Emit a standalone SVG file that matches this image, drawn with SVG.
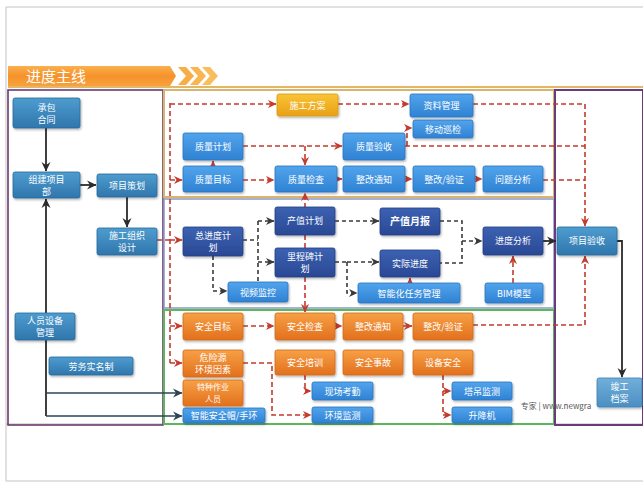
<svg xmlns="http://www.w3.org/2000/svg" width="643" height="484" viewBox="0 0 643 484">
<defs>
<linearGradient id="gSteel" x1="0" y1="0" x2="0" y2="1"><stop offset="0" stop-color="#4f9ccf"/><stop offset="1" stop-color="#2e76ad"/></linearGradient>
<linearGradient id="gBlue" x1="0" y1="0" x2="0" y2="1"><stop offset="0" stop-color="#52a4ec"/><stop offset="1" stop-color="#2f82d3"/></linearGradient>
<linearGradient id="gNavy" x1="0" y1="0" x2="0" y2="1"><stop offset="0" stop-color="#3c62b2"/><stop offset="1" stop-color="#2a4894"/></linearGradient>
<linearGradient id="gOrange" x1="0" y1="0" x2="0" y2="1"><stop offset="0" stop-color="#f7a046"/><stop offset="1" stop-color="#e2701c"/></linearGradient>
<linearGradient id="gGold" x1="0" y1="0" x2="0" y2="1"><stop offset="0" stop-color="#f9c436"/><stop offset="1" stop-color="#e9a016"/></linearGradient>
<linearGradient id="gPale" x1="0" y1="0" x2="0" y2="1"><stop offset="0" stop-color="#72afd9"/><stop offset="1" stop-color="#4a8fc3"/></linearGradient>
<linearGradient id="gBanner" x1="0" y1="0" x2="0" y2="1"><stop offset="0" stop-color="#fbb04e"/><stop offset="0.5" stop-color="#f5922a"/><stop offset="1" stop-color="#f7a23e"/></linearGradient>
<filter id="sh" x="-10%" y="-10%" width="130%" height="140%"><feDropShadow dx="1" dy="1.5" stdDeviation="0.8" flood-color="#000" flood-opacity="0.3"/></filter>
<marker id="aRed" markerUnits="userSpaceOnUse" markerWidth="9" markerHeight="9" refX="8" refY="4.5" orient="auto"><path d="M0,0.5 L8.5,4.5 L0,8.5 L2.5,4.5 z" fill="#c23b2c"/></marker>
<marker id="aGray" markerUnits="userSpaceOnUse" markerWidth="9" markerHeight="9" refX="8" refY="4.5" orient="auto"><path d="M0,0.5 L8.5,4.5 L0,8.5 L2.5,4.5 z" fill="#3a3a3a"/></marker>
<marker id="aDark" markerUnits="userSpaceOnUse" markerWidth="10" markerHeight="10" refX="9" refY="5" orient="auto"><path d="M0,0.5 L9.5,5 L0,9.5 L3,5 z" fill="#2b2b2b"/></marker>
<marker id="aTeal" markerUnits="userSpaceOnUse" markerWidth="10" markerHeight="10" refX="9" refY="5" orient="auto"><path d="M0,0.5 L9.5,5 L0,9.5 L3,5 z" fill="#2a4558"/></marker>
</defs>
<style>
text{font-family:"Noto Sans CJK SC","Noto Sans",sans-serif;font-size:9px;fill:#fff;text-anchor:middle}
.b rect{stroke-width:0.8;filter:url(#sh)}
.steel rect{fill:url(#gSteel);stroke:#2a6a9a}
.blue rect{fill:url(#gBlue);stroke:#2a74bf}
.navy rect{fill:url(#gNavy);stroke:#213d80}
.orange rect{fill:url(#gOrange);stroke:#d06a1a}
.gold rect{fill:url(#gGold);stroke:#d99a10}
.pale rect{fill:url(#gPale);stroke:#3f82b5}
.red{fill:none;stroke:#c23b2c;stroke-width:1.6;stroke-dasharray:5 3}
.redm{marker-end:url(#aRed)}
.gray{fill:none;stroke:#3a3a3a;stroke-width:1.6;stroke-dasharray:4 3}
.graym{marker-end:url(#aGray)}
.dark{fill:none;stroke:#2b2b2b;stroke-width:1.8}
.teal{fill:none;stroke:#2a4558;stroke-width:1.6}
.frame{fill:none}
.sm{font-size:8px}
</style>
<rect width="643" height="484" fill="#fff"/>
<g id="page">
<rect x="6" y="7" width="640" height="474" fill="none" stroke="#c4c4c4" stroke-width="1"/>
<line x1="6" y1="424" x2="643" y2="424" stroke="#b8b8b8" stroke-width="1"/>
</g>
<g id="banner">
<line x1="8" y1="87" x2="643" y2="87" stroke="#e4b766" stroke-width="2"/>
<polygon points="8,66 170,66 176,76 170,86 8,86" fill="url(#gBanner)"/>
<polygon points="178,67 186,67 194,76 186,85 178,85 186,76" fill="#f8ae44"/>
<polygon points="190,67 198,67 206,76 198,85 190,85 198,76" fill="#f9b650"/>
<polygon points="202,67 210,67 218,76 210,85 202,85 210,76" fill="#fabd5c"/>
<text x="56" y="81.5" style="font-size:15px;fill:#fff">进度主线</text>
</g>
<g id="frames">
<rect class="frame" x="8" y="90" width="155" height="335" stroke="#6b3a6e" stroke-width="1.6"/>
<rect class="frame" x="164" y="90" width="390" height="107" stroke="#d8b46c" stroke-width="2"/>
<rect class="frame" x="164" y="199" width="390" height="109" stroke="#8a96c8" stroke-width="1.5"/>
<rect class="frame" x="164" y="310" width="390" height="114" stroke="#5cb65c" stroke-width="2"/>
<rect class="frame" x="555" y="90" width="88" height="335" stroke="#6b3a7a" stroke-width="2"/>
</g>
<g id="watermark">
<text x="556" y="409" style="font-size:8px;fill:#555">专家 | www.newgra</text>
</g>
<g id="connectors">
<path class="dark" marker-end="url(#aDark)" d="M46,128 V171"/>
<path class="dark" marker-end="url(#aDark)" d="M80,185 H96"/>
<path class="dark" marker-end="url(#aDark)" d="M127,197 V227"/>
<path class="dark" marker-end="url(#aDark)" d="M46,416 V199"/>
<path class="teal" marker-end="url(#aTeal)" d="M46,393 H182"/>
<path class="teal" marker-end="url(#aTeal)" d="M46,416 H182"/>
<path class="dark" marker-end="url(#aDark)" d="M617,241 H622 V377"/>
<path class="dark" marker-end="url(#aDark)" d="M543,241 H556"/>
<path class="red" d="M157,240 H170"/>
<path class="red" d="M170,103 V363"/>
<path class="red redm" d="M170,104 H276"/>
<path class="red redm" d="M170,180 H182"/>
<path class="red redm" d="M170,240 H182"/>
<path class="red redm" d="M170,326 H182"/>
<path class="red redm" d="M170,363 H182"/>
<path class="red redm" d="M338,104 H409"/>
<path class="red redm" d="M473,104 H585 V226"/>
<path class="red redm" d="M243,146 H342"/>
<path class="red redm" d="M305,146 V165"/>
<path class="red" d="M405,146 H585"/>
<path class="red redm" d="M407,146 V128 H412"/>
<path fill="none" stroke="#c23b2c" stroke-width="1.6" marker-end="url(#aRed)" d="M213,166 V161"/>
<path class="red redm" d="M243,180 H274"/>
<path class="red redm" d="M337,179 H342"/>
<path class="red redm" d="M405,179 H412"/>
<path class="red redm" d="M475,179 H482"/>
<path class="red" d="M543,180 H585"/>
<path class="red redm" d="M305,248 V193"/>
<path class="red redm" d="M305,277 V312"/>
<path class="red redm" d="M410,283 V278"/>
<path class="red redm" d="M513,283 V256"/>
<path class="red redm" d="M243,326 H274"/>
<path class="red redm" d="M335,326 H342"/>
<path class="red redm" d="M403,326 H412"/>
<path class="red redm" d="M473,325 H585 V256"/>
<path class="red redm" d="M243,363 H272 V415 H311"/>
<path class="red redm" d="M305,375 V391 H311"/>
<path class="red redm" d="M443,375 V415 H451"/>
<path class="red redm" d="M443,391 H451"/>
<path class="gray" d="M243,240 H258"/>
<path class="gray" d="M258,221 V282"/>
<path class="gray graym" d="M258,221 H274"/>
<path class="gray graym" d="M258,262 H274"/>
<path class="gray graym" d="M213,256 V291 H227"/>
<path class="gray graym" d="M335,221 H379"/>
<path class="gray" d="M335,262 H347"/>
<path class="gray graym" d="M347,262 H379"/>
<path class="gray graym" d="M347,262 V293 H357"/>
<path class="gray" d="M440,221 H462 V263 H440"/>
<path class="gray graym" d="M462,241 H482"/>
</g>
<g id="n_cbht" class="b steel"><rect x="13" y="98" width="67" height="30" rx="2"/><text x="46.5" y="111">承包</text><text x="46.5" y="123">合同</text></g>
<g id="n_zjxmb" class="b steel"><rect x="13" y="172" width="67" height="26" rx="2"/><text x="46.5" y="183">组建项目</text><text x="46.5" y="195">部</text></g>
<g id="n_xmch" class="b steel"><rect x="97" y="174" width="60" height="23" rx="2"/><text x="127" y="189">项目策划</text></g>
<g id="n_sgzzsj" class="b steel"><rect x="97" y="228" width="60" height="27" rx="2"/><text x="127" y="239">施工组织</text><text x="127" y="251">设计</text></g>
<g id="n_rysbgl" class="b steel"><rect x="15" y="313" width="60" height="27" rx="2"/><text x="45" y="324">人员设备</text><text x="45" y="336">管理</text></g>
<g id="n_lwsmz" class="b steel"><rect x="49" y="357" width="84" height="18" rx="2"/><text x="91" y="369.5">劳务实名制</text></g>
<g id="n_sgfa" class="b gold"><rect x="277" y="94" width="61" height="22" rx="2"/><text x="307.5" y="108.5">施工方案</text></g>
<g id="n_zlgl" class="b blue"><rect x="410" y="94" width="63" height="23" rx="2"/><text x="441.5" y="109">资料管理</text></g>
<g id="n_ydxj" class="b blue"><rect x="413" y="120" width="60" height="18" rx="2"/><text x="443" y="132.5">移动巡检</text></g>
<g id="n_zljh" class="b blue"><rect x="183" y="133" width="60" height="27" rx="2"/><text x="213" y="150">质量计划</text></g>
<g id="n_zlys" class="b blue"><rect x="343" y="133" width="62" height="27" rx="2"/><text x="374" y="150">质量验收</text></g>
<g id="n_zlmb" class="b blue"><rect x="183" y="166" width="60" height="26" rx="2"/><text x="213" y="182.5">质量目标</text></g>
<g id="n_zljc" class="b blue"><rect x="275" y="166" width="62" height="26" rx="2"/><text x="306" y="182.5">质量检查</text></g>
<g id="n_zgtz1" class="b blue"><rect x="343" y="166" width="62" height="26" rx="2"/><text x="374" y="182.5">整改通知</text></g>
<g id="n_zgyz1" class="b blue"><rect x="413" y="166" width="62" height="26" rx="2"/><text x="444" y="182.5">整改/验证</text></g>
<g id="n_wtfx" class="b blue"><rect x="483" y="166" width="60" height="26" rx="2"/><text x="513" y="182.5">问题分析</text></g>
<g id="n_zjdjh" class="b navy"><rect x="183" y="227" width="60" height="29" rx="2"/><text x="213" y="239">总进度计</text><text x="213" y="251">划</text></g>
<g id="n_czjh" class="b navy"><rect x="275" y="207" width="60" height="28" rx="2"/><text x="305" y="224">产值计划</text></g>
<g id="n_lcbjh" class="b navy"><rect x="275" y="248" width="60" height="29" rx="2"/><text x="305" y="260">里程碑计</text><text x="305" y="272">划</text></g>
<g id="n_spjk" class="b blue"><rect x="228" y="282" width="60" height="20" rx="2"/><text x="258" y="295.5">视频监控</text></g>
<g id="n_czyb" class="b navy"><rect x="380" y="208" width="60" height="27" rx="2"/><text x="410" y="225" style="font-weight:bold;font-size:10px">产值月报</text></g>
<g id="n_sjjd" class="b navy"><rect x="380" y="250" width="60" height="27" rx="2"/><text x="410" y="267">实际进度</text></g>
<g id="n_znhrwgl" class="b blue"><rect x="358" y="283" width="102" height="20" rx="2"/><text x="409" y="296.5">智能化任务管理</text></g>
<g id="n_jdfx" class="b navy"><rect x="483" y="227" width="60" height="28" rx="2"/><text x="513" y="244">进度分析</text></g>
<g id="n_bim" class="b blue"><rect x="485" y="283" width="58" height="20" rx="2"/><text x="514" y="296.5">BIM模型</text></g>
<g id="n_aqmb" class="b orange"><rect x="183" y="313" width="60" height="27" rx="2"/><text x="213" y="330">安全目标</text></g>
<g id="n_aqjc" class="b orange"><rect x="275" y="313" width="60" height="27" rx="2"/><text x="305" y="330">安全检查</text></g>
<g id="n_zgtz2" class="b orange"><rect x="343" y="313" width="60" height="27" rx="2"/><text x="373" y="330">整改通知</text></g>
<g id="n_zgyz2" class="b orange"><rect x="413" y="313" width="60" height="27" rx="2"/><text x="443" y="330">整改/验证</text></g>
<g id="n_wxy" class="b orange"><rect x="183" y="350" width="60" height="27" rx="2"/><text x="213" y="361">危险源</text><text x="213" y="373">环境因素</text></g>
<g id="n_aqpx" class="b orange"><rect x="275" y="350" width="60" height="25" rx="2"/><text x="305" y="366">安全培训</text></g>
<g id="n_aqsg" class="b orange"><rect x="343" y="350" width="60" height="25" rx="2"/><text x="373" y="366">安全事故</text></g>
<g id="n_sbaq" class="b orange"><rect x="413" y="350" width="60" height="25" rx="2"/><text x="443" y="366">设备安全</text></g>
<g id="n_tzzy" class="b orange"><rect x="183" y="380" width="60" height="26" rx="2"/><text class="sm" x="213" y="390">特种作业</text><text class="sm" x="213" y="402">人员</text></g>
<g id="n_znaqm" class="b blue"><rect x="183" y="408" width="82" height="15" rx="2"/><text x="224" y="419">智能安全帽/手环</text></g>
<g id="n_xckq" class="b blue"><rect x="312" y="382" width="61" height="18" rx="2"/><text x="342.5" y="394.5">现场考勤</text></g>
<g id="n_hjjc" class="b blue"><rect x="312" y="407" width="61" height="16" rx="2"/><text x="342.5" y="418.5">环境监测</text></g>
<g id="n_tdjc" class="b blue"><rect x="452" y="382" width="60" height="18" rx="2"/><text x="482" y="394.5">塔吊监测</text></g>
<g id="n_sjj" class="b blue"><rect x="452" y="407" width="60" height="16" rx="2"/><text x="482" y="418.5">升降机</text></g>
<g id="n_xmys" class="b steel"><rect x="557" y="227" width="60" height="28" rx="2"/><text x="587" y="244">项目验收</text></g>
<g id="n_jgda" class="b pale"><rect x="597" y="378" width="45" height="29" rx="2"/><text x="619.5" y="390">竣工</text><text x="619.5" y="402">档案</text></g>
</svg>
